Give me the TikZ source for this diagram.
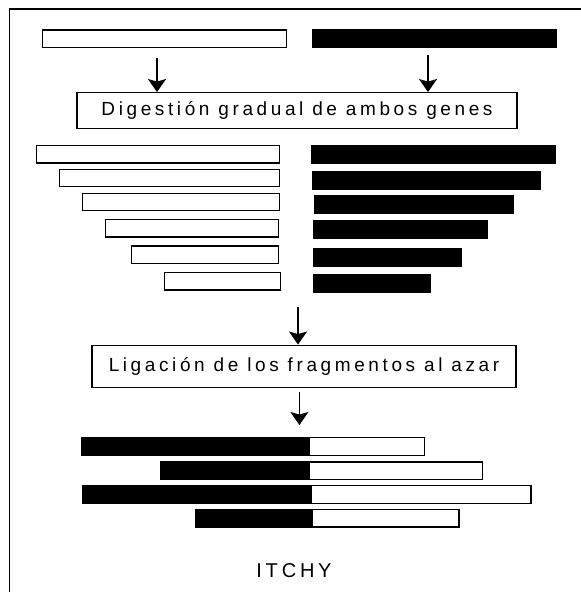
\documentclass[tikz,border=0pt]{standalone}
\usepackage{fontspec}
\setmainfont{Liberation Sans}
\newfontfamily\spfont[LetterSpace=19]{Liberation Sans}
\usetikzlibrary{arrows.meta}
\tikzset{wb/.append style={draw, fill=white, line width=1.4pt, inner sep=0pt, minimum height=17.5pt, anchor=west}}
\tikzset{bb/.append style={draw, fill=black, line width=1.4pt, inner sep=0pt, minimum height=17.5pt, anchor=west}}
\tikzset{tb/.append style={draw, line width=1.3pt, inner sep=0pt, font=\spfont\fontsize{19}{22}\selectfont}}
\tikzset{ar/.append style={-{Stealth[length=13pt,width=18pt,inset=2.5pt]}, line width=1.5pt}}

\begin{document}
\begin{tikzpicture}[x=1pt,y=-1pt]
                \useasboundingbox (0,0) rectangle (581,592);
                \draw[line width=1.4pt] (9.5,592) -- (9.5,9) -- (581,9);
                % genes
                \node[wb, minimum width=244pt] (g1) at (42,38.8) {};
                \node[bb, minimum width=244pt] (g2) at (312,38.8) {};
                \node[tb, minimum width=440pt, minimum height=36pt] (dig) at (297,110.7) {Digestión gradual de ambos genes};
                % digestion
                \node[wb, minimum width=243pt] (w1) at (36,154.2) {};
                \node[wb, minimum width=220.5pt] (w2) at (58.5,178) {};
                \node[wb, minimum width=197.5pt] (w3) at (81.5,202) {};
                \node[wb, minimum width=173pt] (w4) at (105,228.2) {};
                \node[wb, minimum width=147pt] (w5) at (131,254.7) {};
                \node[wb, minimum width=116pt] (w6) at (164,281.2) {};
                \node[bb, minimum width=244pt] (b1) at (310.5,154.2) {};
                \node[bb, minimum width=227.5pt] (b2) at (312,180.7) {};
                \node[bb, minimum width=199pt] (b3) at (313.5,204.2) {};
                \node[bb, minimum width=173.5pt] (b4) at (313,229.3) {};
                \node[bb, minimum width=147.5pt] (b5) at (313,257.2) {};
                \node[bb, minimum width=116.5pt] (b6) at (313,283.2) {};
                \node[tb, minimum width=424pt, minimum height=42pt] (lig) at (304,366.2) {Ligación de los fragmentos al azar};
                % chimeras
                \node[bb, minimum width=227pt] (k1) at (80.5,446.5) {};
                \node[wb, minimum width=115pt] (l1) at (k1.east) {};
                \node[bb, minimum width=147.5pt] (k2) at (160,470.8) {};
                \node[wb, minimum width=173pt] (l2) at (k2.east) {};
                \node[bb, minimum width=227.5pt] (k3) at (82,494.5) {};
                \node[wb, minimum width=219.5pt] (l3) at (k3.east) {};
                \node[bb, minimum width=116pt] (k4) at (194.5,518.2) {};
                \node[wb, minimum width=146.5pt] (l4) at (k4.east) {};
                \node[font=\spfont\fontsize{20}{22}\selectfont] (itchy) at (294,570.5) {ITCHY};
                % arrows
                \coordinate (s1) at (157,58);
                \coordinate (s2) at (428,55);
                \coordinate (s3) at (298,306.7);
                \coordinate (s4) at (299.4,391.7);
                \coordinate (e4) at (299.4,425);
                \draw[ar] (s1) -- (s1 |- dig.north);
                \draw[ar] (s2) -- (s2 |- dig.north);
                \draw[ar] (s3) -- (s3 |- lig.north);
                \draw[ar] (s4) -- (e4);
            \end{tikzpicture}
\end{document}
